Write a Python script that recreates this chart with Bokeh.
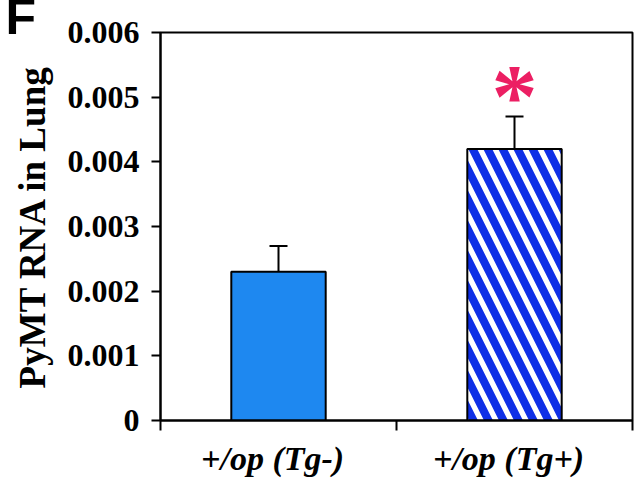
from bokeh.plotting import figure
from bokeh.models import (FixedTicker, LinearAxis, Whisker, TeeHead, ColumnDataSource, Range1d)
from bokeh.core.properties import value
from bokeh.embed import file_html
from bokeh.resources import INLINE

# ---- data ----
categories = ["+/op (Tg-)", "+/op (Tg+)"]
means = [0.0023, 0.0042]
errors = [0.0004, 0.0005]
significant = [False, True]
y_ticks = [0.0, 0.001, 0.002, 0.003, 0.004, 0.005, 0.006]
y_tick_labels = ["0", "0.001", "0.002", "0.003", "0.004", "0.005", "0.006"]
y_title = "PyMT RNA in Lung"
panel_letter = "F"

# ---- styles ----
SOLID_BLUE = "#1E88F0"
STRIPE_BLUE = "#0F2FE6"
STAR_PINK = "#EC1F63"
SERIF = "Liberation Serif"
BORDER_L, BORDER_R, BORDER_T, BORDER_B = 160, 8, 32, 60

n = len(categories)
xs = [i + 0.5 for i in range(n)]
uppers = [m + e for m, e in zip(means, errors)]

p = figure(width=640, height=480, output_backend="svg", toolbar_location=None,
           x_range=Range1d(0, n), y_range=Range1d(y_ticks[0], y_ticks[-1]),
           x_axis_type=None, y_axis_type=None,
           min_border_left=BORDER_L, min_border_right=BORDER_R,
           min_border_top=BORDER_T, min_border_bottom=BORDER_B)
p.grid.visible = False
p.outline_line_color = "black"
p.outline_line_width = 2
p.background_fill_color = "white"
p.border_fill_color = "white"

# panel letter as the plot title, pulled to the top-left corner
p.title.text = panel_letter
p.title.text_font = "Liberation Sans"
p.title.text_font_style = "bold"
p.title.text_font_size = "50px"
p.title.text_color = "black"
p.title.align = "left"
p.title.vertical_align = "middle"
p.title.offset = -155
p.title.standoff = -26.5

# y axis
yax = LinearAxis(ticker=FixedTicker(ticks=y_ticks),
                 major_label_overrides={t: l for t, l in zip(y_ticks, y_tick_labels)})
yax.axis_label = y_title
yax.axis_label_text_font = SERIF
yax.axis_label_text_font_style = "bold"
yax.axis_label_text_font_size = "37px"
yax.axis_label_text_color = "black"
yax.axis_label_standoff = 12
yax.major_label_text_font = SERIF
yax.major_label_text_font_style = "bold"
yax.major_label_text_font_size = "32px"
yax.major_label_text_color = "black"
yax.major_label_standoff = 12
yax.major_tick_out = 9
yax.major_tick_in = 0
yax.minor_tick_out = 0
yax.minor_tick_in = 0
yax.axis_line_width = 2
yax.major_tick_line_width = 2
yax.axis_line_color = "black"
p.add_layout(yax, "left")

# x axis with boundary ticks
bounds = list(range(n + 1))
xax = LinearAxis(ticker=FixedTicker(ticks=bounds),
                 major_label_overrides={b: "" for b in bounds})
xax.major_tick_out = 10
xax.major_tick_in = 0
xax.minor_tick_out = 0
xax.minor_tick_in = 0
xax.axis_line_width = 2
xax.major_tick_line_width = 2
xax.major_label_text_font_size = "1px"
xax.major_label_standoff = 0
p.add_layout(xax, "below")

# category labels
label_shift = -0.025
label_pos = [x + label_shift for x in xs]
cax = LinearAxis(ticker=FixedTicker(ticks=label_pos),
                 major_label_overrides={x: c for x, c in zip(label_pos, categories)})
cax.axis_line_color = None
cax.major_tick_line_color = None
cax.minor_tick_line_color = None
cax.major_label_text_font = SERIF
cax.major_label_text_font_style = "bold italic"
cax.major_label_text_font_size = "34px"
cax.major_label_text_color = "black"
cax.major_label_standoff = 3
p.add_layout(cax, "below")

# bars
for i in range(n):
    src = ColumnDataSource(dict(x=[xs[i]], top=[means[i]]))
    if significant[i]:
        p.vbar(x="x", top="top", width=0.4, bottom=0, source=src,
               fill_color="white", line_color="black", line_width=2,
               hatch_pattern="\\", hatch_color=STRIPE_BLUE, hatch_scale=30, hatch_weight=8)
    else:
        p.vbar(x="x", top="top", width=0.4, bottom=0, source=src,
               fill_color=SOLID_BLUE, line_color="black", line_width=2)

# error bars
esrc = ColumnDataSource(dict(x=xs, lower=means, upper=uppers))
wh = Whisker(base="x", lower="lower", upper="upper", source=esrc,
             upper_head=TeeHead(size=18, line_width=2, line_color="black"),
             lower_head=None, line_width=2, line_color="black", level="overlay")
p.add_layout(wh)

# significance star
sx = [x for x, s in zip(xs, significant) if s]
sy = [u + 0.00032 for u, s in zip(uppers, significant) if s]
p.text(x=sx, y=sy, text=["*"] * len(sx), text_font=value(SERIF), text_font_style="bold",
       text_font_size="92px", text_color=STAR_PINK, text_align="center", text_baseline="middle")

open("out.html", "w").write(file_html(p, INLINE))
